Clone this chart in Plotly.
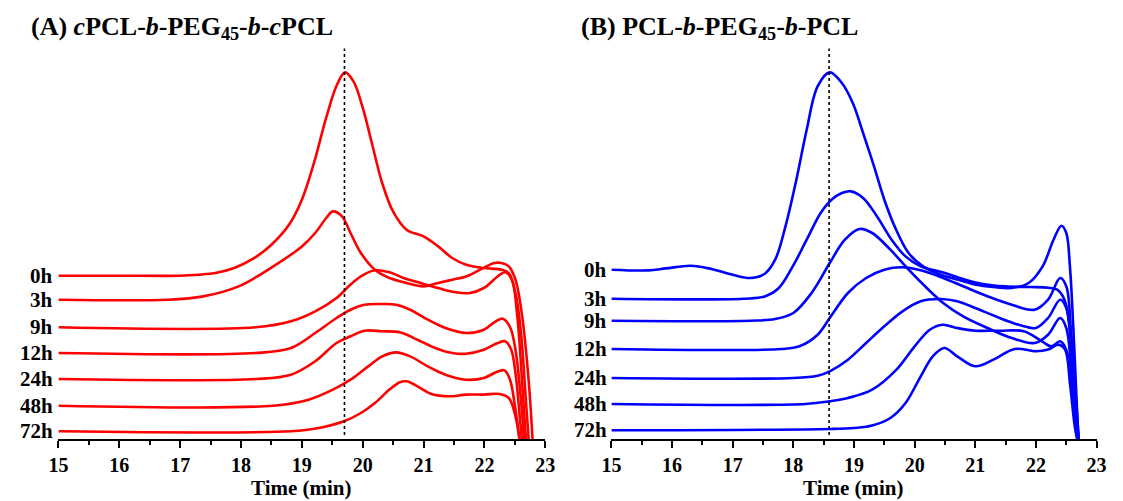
import plotly.graph_objects as go

# ---------------- data ----------------
labels = ["0h", "3h", "9h", "12h", "24h", "48h", "72h"]

# vertical stacking offsets of each trace (display units)
a_offsets = [163.3, 139.3, 111.7, 86.0, 60.0, 33.3, 7.7]
b_offsets = [169.3, 140.3, 118.3, 90.0, 61.0, 35.0, 8.7]

a_marker_time = 19.70
b_marker_time = 18.59

# Panel A: cPCL-b-PEG45-b-cPCL
a_0h_t = [15, 16, 17, 17.3, 17.6, 17.9, 18.2, 18.5, 18.8, 19.0, 19.2, 19.4, 19.57, 19.71, 19.85, 20.0, 20.15, 20.32, 20.5, 20.72, 21.0, 21.24, 21.47, 21.7, 21.99, 22.28, 22.4, 22.51, 22.6, 22.68, 22.74]
a_0h_s = [0, 0, 0, 1, 3, 8, 17, 31, 52, 76, 113, 158, 190, 203.3, 194, 168, 132.7, 92.7, 64, 46, 39.3, 29.3, 17.7, 11, 7.7, 6, 2.7, -17.3, -57.3, -124, -175]

a_3h_t = [15, 16.8, 17.38, 17.96, 18.53, 19.0, 19.22, 19.4, 19.51, 19.66, 19.8, 19.97, 20.2, 20.44, 20.72, 21.0, 21.24, 21.47, 21.7, 21.93, 22.16, 22.28, 22.4, 22.51, 22.62, 22.73, 22.8]
a_3h_s = [0, 0, 3.3, 13.3, 33.3, 53.3, 66.7, 81.7, 88.3, 83.3, 66.7, 46.7, 30, 21.7, 16.7, 13.3, 16.7, 20, 23.3, 30, 36.7, 36.7, 33.3, 20, -16.7, -83.3, -150]

a_9h_t = [15, 18.24, 18.82, 19.22, 19.57, 19.8, 19.97, 20.2, 20.44, 20.67, 20.95, 21.24, 21.53, 21.76, 21.99, 22.22, 22.34, 22.45, 22.54, 22.62, 22.69]
a_9h_s = [0, 0, 6, 16, 29.3, 42.7, 51, 57, 55, 49.3, 44.3, 39.3, 35, 34.3, 39.3, 51, 55, 47.7, 11, -55.7, -120]

a_12h_t = [15, 18.24, 18.82, 19.22, 19.57, 19.8, 20.03, 20.32, 20.55, 20.78, 21.07, 21.36, 21.7, 21.99, 22.16, 22.3, 22.42, 22.51, 22.6, 22.66]
a_12h_s = [0, 0, 5, 20, 35, 43.3, 48.3, 49, 48.3, 43.3, 33.3, 25, 20, 23.3, 30.7, 34.3, 26, 3.3, -46.7, -95]

a_24h_t = [15, 18.24, 18.82, 19.22, 19.57, 19.8, 20.03, 20.32, 20.61, 20.9, 21.19, 21.47, 21.7, 21.99, 22.22, 22.34, 22.44, 22.51, 22.58, 22.63]
a_24h_s = [0, 0, 4.3, 17.7, 36, 42.7, 48.3, 47.7, 46.7, 39.3, 31, 26, 25.3, 29.3, 36, 37.7, 29.3, 6, -37.3, -70]

a_48h_t = [15, 18.53, 19.11, 19.51, 19.8, 20.09, 20.32, 20.55, 20.78, 21.07, 21.36, 21.7, 21.99, 22.22, 22.33, 22.42, 22.51, 22.59]
a_48h_s = [0, 0, 6, 16, 26, 39.3, 49.3, 53.3, 49.3, 39.3, 31, 26, 27.7, 34.3, 35.3, 26, -4, -40]

a_72h_t = [15, 18.82, 19.28, 19.69, 19.97, 20.2, 20.44, 20.61, 20.72, 20.9, 21.13, 21.42, 21.7, 21.99, 22.25, 22.4, 22.51, 22.59]
a_72h_s = [0, 0, 3.3, 10, 18.3, 28.3, 41.7, 49, 50, 45, 37.3, 35, 36.7, 36.7, 37.3, 33.3, 15, -15]

# Panel B: PCL-b-PEG45-b-PCL
b_0h_t = [15, 15.61, 15.9, 16.31, 16.65, 17.0, 17.29, 17.53, 17.7, 17.87, 18.05, 18.22, 18.4, 18.6, 18.8, 18.98, 19.15, 19.33, 19.5, 19.67, 19.9, 20.14, 20.43, 20.72, 21.01, 21.3, 21.59, 21.88, 22.11, 22.29, 22.42, 22.5, 22.56, 22.62, 22.67, 22.71]
b_0h_s = [0, -0.7, 1.3, 4, 0.7, -5, -8.3, -4, 10, 43.3, 90, 140, 183.3, 197.3, 186.7, 166.7, 136.7, 103.3, 70, 43.3, 16.7, 3.3, -5, -10, -15, -17.3, -18.3, -13.3, 3.3, 30, 44, 36.7, 3.3, -63.3, -130, -180]

b_3h_t = [15, 17.18, 17.53, 17.76, 17.99, 18.22, 18.45, 18.63, 18.8, 18.95, 19.15, 19.38, 19.62, 19.85, 20.1, 20.47, 20.8, 21.1, 21.5, 21.9, 22.2, 22.35, 22.47, 22.57, 22.65, 22.71]
b_3h_s = [0, 0, 2.3, 10.7, 32.3, 59, 85.7, 99, 105.7, 107.3, 100.7, 82.3, 59, 42.3, 32.3, 26.3, 19.7, 15, 12.3, 11.7, 11, 9, -1, -34.3, -101, -150]

b_9h_t = [15, 17.3, 17.7, 18.0, 18.3, 18.6, 18.85, 19.09, 19.3, 19.6, 19.9, 20.2, 20.47, 20.8, 21.2, 21.6, 21.98, 22.2, 22.4, 22.5, 22.58, 22.66, 22.71]
b_9h_s = [0, 0, 1.7, 7.7, 27.7, 57.7, 81, 91.7, 87.7, 71, 51, 32.7, 17.7, 4.3, -7.3, -17.3, -22.3, -14, 2.7, -7.3, -45.7, -95.7, -125]

b_12h_t = [15, 17.8, 18.1, 18.4, 18.6, 18.9, 19.2, 19.5, 19.79, 20.1, 20.47, 20.8, 21.2, 21.6, 21.98, 22.2, 22.4, 22.5, 22.58, 22.66, 22.71]
b_12h_s = [0, 0, 2.7, 14.3, 31, 56, 71, 79.3, 81.7, 78.7, 71, 62.7, 52.7, 44.3, 39.3, 49.3, 71, 62.7, 16, -50.7, -95]

b_24h_t = [15, 18.0, 18.4, 18.6, 18.9, 19.2, 19.5, 19.8, 20.1, 20.43, 20.7, 21.0, 21.4, 21.8, 22.0, 22.2, 22.4, 22.5, 22.58, 22.66, 22.71]
b_24h_s = [0, 0, 2.3, 6.7, 18.3, 35, 51.7, 66.7, 76.7, 79, 76.7, 70, 60, 51.7, 50, 60, 78.3, 70, 28.3, -31.7, -65]

b_48h_t = [15, 18.2, 18.6, 18.9, 19.3, 19.7, 20.0, 20.25, 20.46, 20.7, 21.0, 21.4, 21.8, 22.1, 22.25, 22.4, 22.5, 22.58, 22.66, 22.71]
b_48h_s = [0, 0, 2.7, 6, 14.3, 34.3, 57.7, 74.3, 79.3, 76, 73.3, 73.3, 72.7, 62.7, 57.7, 62.7, 54.3, 21, -22.3, -42]

b_72h_t = [15, 18.6, 19.0, 19.3, 19.6, 19.85, 20.1, 20.3, 20.49, 20.7, 21.0, 21.3, 21.65, 22.0, 22.2, 22.37, 22.48, 22.56, 22.64, 22.7]
b_72h_s = [0, 1.3, 2.3, 4.7, 12.3, 27.3, 54, 74, 82.3, 74, 64, 70.7, 81.3, 79, 80.7, 85.7, 80.7, 47.3, 4, -15]

a_times = [a_0h_t, a_3h_t, a_9h_t, a_12h_t, a_24h_t, a_48h_t, a_72h_t]
a_signals = [a_0h_s, a_3h_s, a_9h_s, a_12h_s, a_24h_s, a_48h_s, a_72h_s]
b_times = [b_0h_t, b_3h_t, b_9h_t, b_12h_t, b_24h_t, b_48h_t, b_72h_t]
b_signals = [b_0h_s, b_3h_s, b_9h_s, b_12h_s, b_24h_s, b_48h_s, b_72h_s]

x_ticks = [15, 16, 17, 18, 19, 20, 21, 22, 23]

# ---------------- figure ----------------
W, H = 1123, 501
M_T, M_B = 48, 62
RED = "#ff0000"
BLUE = "#0000ff"
FONT = "Liberation Serif"

fig = go.Figure()

def add_panel(times, signals, offsets, color, xa, ya):
    for lab, t, s, off in zip(labels, times, signals, offsets):
        fig.add_trace(go.Scatter(
            x=t, y=[off + v for v in s], mode="lines", name=lab,
            line=dict(color=color, width=2.6, shape="spline", smoothing=1.0),
            xaxis=xa, yaxis=ya, showlegend=False, hoverinfo="skip"))

add_panel(a_times, a_signals, a_offsets, RED, "x", "y")
add_panel(b_times, b_signals, b_offsets, BLUE, "x2", "y2")

plot_h = H - M_T - M_B

xcommon = dict(range=[15, 23], tickvals=x_ticks, ticks="outside", ticklen=7,
               tickwidth=2, tickcolor="black", showline=True, linecolor="black",
               linewidth=2, showgrid=False, zeroline=False,
               tickfont=dict(family=FONT, size=20, color="black", weight="bold"),
               minor=dict(dtick=0.5, ticks="outside", ticklen=4, tickwidth=2,
                          tickcolor="black", showgrid=False))
ycommon = dict(range=[0, plot_h], visible=False, showgrid=False, zeroline=False)

fig.update_layout(
    width=W, height=H,
    margin=dict(l=0, r=0, t=M_T, b=M_B),
    paper_bgcolor="white", plot_bgcolor="white",
    xaxis=dict(domain=[49.3 / W, 545.0 / W], anchor="y", **xcommon),
    xaxis2=dict(domain=[612.3 / W, 1106.3 / W], anchor="y2", **xcommon),
    yaxis=dict(domain=[0, 1], anchor="x", **ycommon),
    yaxis2=dict(domain=[0, 1], anchor="x2", **ycommon),
)

def py(p):
    # pixel row -> paper y
    return (H - M_B - p) / plot_h

# dotted reference lines
for xref, xv in (("x", a_marker_time), ("x2", b_marker_time)):
    fig.add_shape(type="line", xref=xref, yref="paper", x0=xv, x1=xv,
                  y0=py(435), y1=py(48.5),
                  line=dict(color="black", width=1.6, dash="dot"))

# row labels
for lab, off in zip(labels, a_offsets):
    fig.add_annotation(text=lab, xref="paper", yref="y", x=46 / W, y=off,
                       xanchor="right", yanchor="middle", showarrow=False,
                       font=dict(family=FONT, size=21, color="black", weight="bold"))
for lab, off in zip(labels, b_offsets):
    fig.add_annotation(text=lab, xref="paper", yref="y2", x=610 / W, y=off,
                       xanchor="right", yanchor="middle", showarrow=False,
                       font=dict(family=FONT, size=21, color="black", weight="bold"))

# axis titles
for cx in ((49.3 + 545.0) / 2, (612.3 + 1106.3) / 2):
    fig.add_annotation(text="Time (min)", xref="paper", yref="paper",
                       x=cx / W, y=py(488), xanchor="center", yanchor="middle",
                       showarrow=False,
                       font=dict(family=FONT, size=21, color="black", weight="bold"))

# panel titles
fig.add_annotation(text="(A) <i>c</i>PCL-<i>b</i>-PEG<sub>45</sub>-<i>b</i>-<i>c</i>PCL",
                   xref="paper", yref="paper", x=19 / W, y=py(28),
                   xanchor="left", yanchor="middle", showarrow=False,
                   font=dict(family=FONT, size=26, color="black", weight="bold"))
fig.add_annotation(text="(B) PCL-<i>b</i>-PEG<sub>45</sub>-<i>b</i>-PCL",
                   xref="paper", yref="paper", x=579 / W, y=py(28),
                   xanchor="left", yanchor="middle", showarrow=False,
                   font=dict(family=FONT, size=26, color="black", weight="bold"))

fig.write_html("out.html")
